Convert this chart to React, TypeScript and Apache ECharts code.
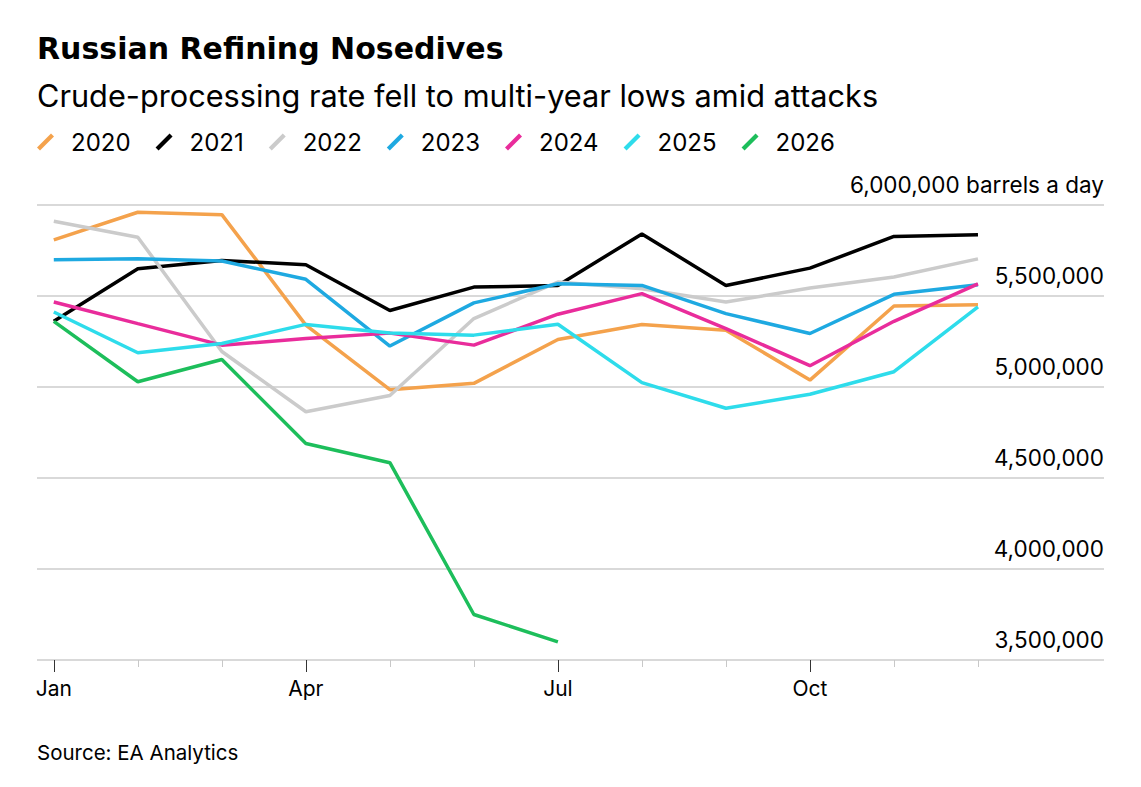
import React, { useEffect, useRef } from "react";
import * as echarts from "echarts";

const months = ["Jan", "Feb", "Mar", "Apr", "May", "Jun", "Jul", "Aug", "Sep", "Oct", "Nov", "Dec"];
const monthTicks = [0, 1, 2, 3, 4, 5, 6, 7, 8, 9, 10, 11];
const labeledMonths = [0, 3, 6, 9];

const years = ["2020", "2021", "2022", "2023", "2024", "2025", "2026"];
const colors = ["#F4A24C", "#000000", "#CBCBCB", "#1EA9E1", "#E92C9B", "#2EDCEB", "#1DBE5B"];

const v2020 = [5808000, 5960000, 5947000, 5340000, 4985000, 5020000, 5261000, 5343000, 5312000, 5038000, 5445000, 5452000];
const v2021 = [5361000, 5650000, 5695000, 5672000, 5420000, 5549000, 5558000, 5841000, 5558000, 5653000, 5827000, 5836000];
const v2022 = [5911000, 5823000, 5195000, 4864000, 4953000, 5376000, 5577000, 5540000, 5467000, 5544000, 5604000, 5704000];
const v2023 = [5699000, 5704000, 5692000, 5592000, 5225000, 5462000, 5567000, 5558000, 5403000, 5294000, 5509000, 5562000];
const v2024 = [5467000, 5348000, 5230000, 5266000, 5296000, 5230000, 5400000, 5513000, 5321000, 5117000, 5361000, 5567000];
const v2025 = [5412000, 5188000, 5239000, 5344000, 5297000, 5285000, 5345000, 5024000, 4883000, 4960000, 5084000, 5440000];
const v2026 = [5361000, 5029000, 5151000, 4690000, 4584000, 3750000, 3600000];

const seriesValues = [v2020, v2021, v2022, v2023, v2024, v2025, v2026];

const TITLE = "Russian Refining Nosedives";
const SUBTITLE = "Crude-processing rate fell to multi-year lows amid attacks";
const SOURCE = "Source: EA Analytics";
const UNIT = "barrels a day";

const FONT = "Inter, 'Liberation Sans', Arial, sans-serif";
const TITLE_FONT = "'DejaVu Sans', Inter, sans-serif";
const SLASH = "path://M0,14 L14,0 L17,3 L3,17 Z";

export default function App() {
  const ref = useRef<HTMLDivElement>(null);

  useEffect(() => {
    if (!ref.current) return;
    const chart = echarts.init(ref.current, undefined, { renderer: "svg" });
    const fmt = (v: number) => v.toLocaleString("en-US");
    chart.setOption({
      animation: false,
      backgroundColor: "#ffffff",
      textStyle: { fontFamily: FONT },
      graphic: [
        {
          type: "text",
          left: 37,
          top: 33,
          style: { text: TITLE, font: `bold 30px ${TITLE_FONT}`, fill: "#000" },
        },
        {
          type: "text",
          left: 37,
          top: 80,
          style: { text: SUBTITLE, font: `30.7px ${FONT}`, fill: "#000" },
        },
        {
          type: "text",
          left: 37,
          top: 742,
          style: { text: SOURCE, font: `20.5px ${FONT}`, fill: "#000" },
        },
      ],
      legend: {
        left: 37,
        top: 130,
        padding: 0,
        icon: SLASH,
        itemWidth: 17,
        itemHeight: 17,
        itemGap: 25,
        textStyle: { fontSize: 24, color: "#000", fontFamily: FONT, padding: [0, 0, 0, 12] },
        data: years,
      },
      grid: { left: 37, right: 37, top: 205, bottom: 127, containLabel: false },
      xAxis: [
        {
          type: "value",
          min: -0.2,
          max: 12.5,
          position: "bottom",
          axisLine: { show: false },
          splitLine: { show: false },
          axisTick: { show: true, customValues: monthTicks, length: 7, lineStyle: { color: "#c8c8c8", width: 1 } },
          axisLabel: { show: false },
        },
        {
          type: "value",
          min: -0.2,
          max: 12.5,
          position: "bottom",
          axisLine: { show: false },
          splitLine: { show: false },
          axisTick: { show: true, customValues: labeledMonths, length: 12, lineStyle: { color: "#333", width: 1 } },
          axisLabel: {
            show: true,
            customValues: labeledMonths,
            formatter: (v: number) => months[Math.round(v)],
            fontSize: 21,
            color: "#000",
            fontFamily: FONT,
            margin: 18,
          },
        },
      ],
      yAxis: {
        type: "value",
        position: "right",
        min: 3500000,
        max: 6000000,
        interval: 500000,
        axisLine: { show: false },
        axisTick: { show: false },
        splitLine: { lineStyle: { color: "#cccccc", width: 1.5 } },
        axisLabel: {
          inside: true,
          margin: 0,
          verticalAlign: "bottom",
          padding: [0, 0, 9, 0],
          fontSize: 22.5,
          color: "#000",
          fontFamily: FONT,
          formatter: (v: number) => (v === 6000000 ? `${fmt(v)} ${UNIT}` : fmt(v)),
        },
      },
      series: years.map((y, i) => ({
        name: y,
        type: "line",
        xAxisIndex: 0,
        data: seriesValues[i].map((v, m) => [m, v]),
        showSymbol: false,
        symbol: "none",
        lineStyle: { color: colors[i], width: 3.5 },
        itemStyle: { color: colors[i] },
        z: 2 + i,
      })),
    });
    return () => chart.dispose();
  }, []);

  return <div ref={ref} style={{ position: "fixed", left: 0, top: 0, width: 1141, height: 787 }} />;
}
